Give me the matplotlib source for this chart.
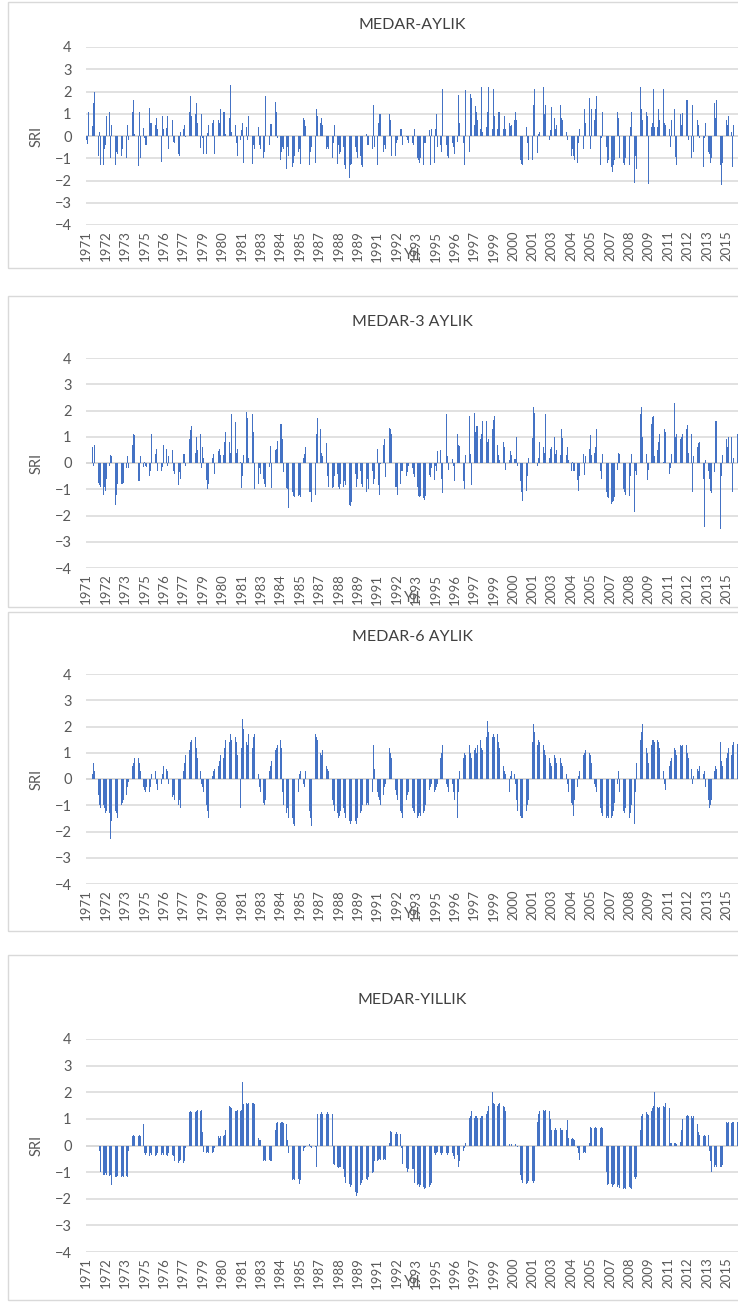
import numpy as np
import pandas as pd
import matplotlib.pyplot as plt
import matplotlib.patches as patches

plt.rcParams['font.family'] = ['Lato', 'DejaVu Sans']

nan = np.nan

# SRI values, one row per year starting Jan 1971
aylik = [
    -0.2, -0.35, 1.1, 0.4, -0.5, 0.45, 1.5, 2.0, 0.8, -0.6, -0.9, 0.2,
    -1.3, -0.7, -1.3, -0.6, -0.4, 0.9, -0.4, 1.1, -1.0, 0.5, -0.6, -1.4,
    -1.3, -0.7, -0.8, -0.5, -0.8, -0.9, -0.6, 0.0, 1.1, -1.0, 0.5, -0.2,
    -1.3, 0.0, 1.1, 1.6, 0.1, 0.7, -0.7, -1.35, 1.1, -1.0, 0.5, 0.35,
    -0.1, -0.4, -0.4, -1.0, 1.25, 0.6, 0.6, 1.1, -1.0, 0.5, 0.8, 0.3,
    -0.5, -0.3, -1.15, 0.9, 0.3, 0.5, 0.35, 0.9, -0.6, 0.5, 0.5, 0.7,
    -0.25, -0.3, -0.1, -0.6, -0.8, -0.9, 0.2, 0.5, 0.3, 0.5, -0.05, 1.3,
    1.0, 1.1, 1.8, 0.9, 0.5, -0.3, 1.0, 1.5, 0.6, 1.1, -0.55, 1.0,
    -0.1, -0.8, -0.9, -0.8, 0.15, 0.5, 1.0, 0.3, 0.6, 0.7, -0.8, 0.25,
    0.7, 0.7, 0.6, 1.2, 0.3, 1.1, 1.1, 0.1, 0.8, 0.7, 0.8, 2.3,
    0.2, 1.0, 1.1, 0.5, -0.3, -0.9, -1.4, -0.2, 0.25, 0.6, -1.2, 2.3,
    0.4, -0.2, 0.9, 2.0, 1.2, -1.25, -0.4, -0.6, -0.8, -0.5, 0.4, -0.4,
    -0.6, -0.6, -1.0, -0.7, 1.8, -0.5, -0.7, -0.4, 0.55, 0.55, 1.0, 0.9,
    1.55, 1.1, -0.1, -0.2, -1.1, -0.7, -0.5, -0.6, -1.2, -1.5, -0.5, -0.9,
    -1.0, -1.2, -1.4, -1.2, -0.9, -1.1, -0.5, -0.7, -0.6, -1.25, -1.5, 0.8,
    0.7, 0.45, -0.9, -0.9, -1.3, -0.7, -0.5, -0.4, -0.6, -1.2, 1.2, 0.9,
    2.0, 0.6, 0.8, 0.5, 0.8, 0.1, -0.6, -0.5, -0.6, -1.2, -1.0, -1.0,
    -0.3, 0.5, -0.6, -1.25, -0.4, -0.8, -0.7, -1.0, -0.5, -1.3, -1.5, -1.4,
    -1.35, -1.9, -1.3, -1.25, -0.6, -0.3, -0.5, -0.7, -1.0, -0.2, -0.9, -1.3,
    -1.4, -1.4, 1.0, 0.1, -0.4, -0.4, -0.6, -0.6, -0.6, 1.4, -0.5, -0.9,
    -1.3, 0.6, 1.0, 1.0, -0.4, -0.7, -0.4, -0.6, 0.2, 1.45, 1.0, 0.7,
    -0.9, -0.5, -1.25, -0.9, -0.3, -0.2, -0.6, 0.3, 0.3, -0.4, -0.9, 0.1,
    -0.05, -0.2, -0.3, 0.1, 0.1, -0.3, -0.4, 0.3, -0.9, -1.0, -1.1, -1.2,
    -1.0, -1.45, -1.3, -0.3, -0.3, -0.2, -0.1, 0.25, -1.3, 0.3, 0.3, -1.2,
    0.3, 1.0, -0.5, -1.3, -0.4, -0.7, 2.1, -0.1, 1.9, -0.4, -0.9, -1.0,
    0.4, 0.35, -0.3, -0.5, -0.8, -0.4, -0.25, 1.85, 0.6, -0.3, -0.6, -0.3,
    -1.3, 2.05, -0.2, -0.7, -0.7, 1.9, 1.7, 1.2, 0.5, 1.35, 1.1, 0.7,
    0.3, 0.3, 2.2, 0.2, 1.6, 1.5, 0.4, 1.1, 2.2, 0.9, 0.2, 0.3,
    2.1, 0.9, 0.7, 0.3, 1.1, 1.1, 1.6, 0.5, 0.3, 0.9, 0.3, -0.5,
    -0.55, 0.6, 0.45, 0.5, 0.05, 0.7, 1.1, 0.7, 0.0, -0.25, -1.1, -1.25,
    -1.3, -1.5, -0.9, 0.4, -0.3, -1.1, -1.15, -1.1, -1.1, 1.4, 2.1, 1.0,
    -0.75, 0.1, 0.2, 1.0, 0.6, 2.2, 1.0, 1.4, 1.5, 1.5, -0.2, 0.25,
    1.3, 0.35, 0.8, 0.3, 0.5, 0.3, 0.4, 1.4, 0.8, 0.7, 0.3, 1.1,
    0.2, -0.2, 0.0, -0.1, -0.9, -0.6, -0.9, -1.1, -0.8, -1.2, -0.3, 0.3,
    0.5, 0.7, -0.6, 1.2, 0.6, 0.9, 1.0, 1.7, -0.6, 1.2, -0.1, 0.7,
    1.2, 1.8, 0.0, -0.6, -1.3, -0.1, 1.1, 0.6, -0.2, -0.5, -1.2, -1.1,
    -1.3, -1.4, -1.6, -1.3, -1.1, -0.1, 1.1, 0.8, -1.0, 0.7, 0.3, -1.2,
    -1.3, -1.0, -1.1, -1.2, -1.3, 0.4, 1.1, 0.9, -2.1, -0.9, -1.5, 0.1,
    1.5, 2.2, 1.2, 0.7, -0.4, -1.4, 1.1, 0.9, -2.15, 0.6, 0.4, 0.6,
    2.1, 0.4, 0.9, 0.4, 1.2, 0.7, -0.6, 0.8, 2.1, 0.6, 0.5, -0.1,
    -0.4, 0.3, -0.5, 0.7, 2.3, 1.2, -0.95, -1.3, 1.4, -0.5, 1.0, 0.5,
    1.05, 1.1, 1.2, 1.6, 1.6, -0.2, -0.9, -1.0, 1.4, -0.7, 0.6, 0.8,
    0.7, 0.5, -0.1, -0.3, -0.9, -1.4, -0.1, 0.6, 1.4, -0.7, -0.8, -1.2,
    -1.0, -0.3, 1.5, 0.8, 1.6, -0.4, -1.2, -1.3, -2.2, -1.2, 0.05, 1.1,
    0.7, 0.5, 0.9, 0.8, 0.2, -1.4, 0.5, 2.1, 0.6,
]

aylik3 = [
    nan, nan, nan, 0.05, 0.3, 0.6, -0.1, 0.7, 1.4, 0.05, -0.75, -0.85,
    -0.9, -1.0, -1.2, -0.9, -1.05, -0.6, -0.55, -0.1, 0.3, 0.25, -0.4, -1.3,
    -1.6, -1.2, -0.8, -0.7, -0.8, -0.8, -0.8, -0.75, -0.45, -0.2, 0.25, -0.2,
    -1.0, 0.1, 0.7, 1.1, 1.05, 0.2, 0.45, -0.7, -0.7, 0.25, -0.1, -0.15,
    0.05, -0.1, -0.15, -0.35, -0.5, -0.3, 1.1, 0.65, 0.2, 0.35, 0.55, -0.3,
    -0.5, -0.8, -0.3, -0.15, 0.7, 0.45, 0.55, -0.1, 0.25, 0.25, -0.5, 0.5,
    -0.3, -0.4, -0.5, -0.7, -0.85, -0.35, -0.6, 0.15, 0.35, 0.35, -0.1, -0.05,
    0.85, 0.9, 1.25, 1.4, 1.8, 1.7, 0.4, 1.0, 0.5, 1.2, 1.1, -0.2,
    0.6, 0.2, -0.1, -0.65, -1.0, -0.8, -0.6, 0.2, 0.2, 0.35, -0.4, 0.75,
    0.35, 0.45, 0.55, 0.3, 0.6, 0.3, 0.8, 1.2, 0.6, 0.45, 0.8, 0.4,
    1.85, 1.5, 1.65, 1.55, 0.4, 0.55, -0.25, 0.05, -0.95, -0.5, 0.3, 2.3,
    1.95, 1.7, 0.2, 0.95, 1.5, 1.85, 1.2, -1.0, -0.9, -0.85, -0.8, -0.2,
    -0.4, -0.5, -0.6, -0.8, -0.9, -0.8, -0.2, -0.15, 0.65, -0.95, 0.2, 0.35,
    0.5, 0.55, 0.85, 1.1, 1.5, 1.5, 0.9, -0.35, -1.25, -0.95, -1.0, -1.7,
    -1.05, -1.0, -1.1, -1.25, -1.3, -1.55, -1.4, -1.25, -1.2, -1.3, -1.75, 0.2,
    0.35, 0.6, 0.25, -0.3, -1.1, -1.1, -1.5, -1.2, -1.0, -1.2, 1.1, 1.7,
    1.6, 1.3, 0.4, 0.25, 0.45, 0.5, 0.75, -0.5, -0.9, -1.1, -0.3, -0.95,
    -0.9, -0.5, -1.0, -0.4, -0.9, -1.0, -0.8, -1.15, -0.9, -0.7, -0.85, -1.1,
    -1.4, -1.6, -1.65, -1.5, -1.35, -1.2, -0.4, -0.9, -0.6, -0.55, -0.3, -0.8,
    -0.9, -1.05, -1.2, -1.1, -0.6, -1.0, -0.2, 0.8, -0.3, -0.8, -0.6, 1.35,
    0.55, -0.85, -1.2, -0.05, 0.1, 0.7, 0.9, -0.55, -0.9, 0.3, 1.35, 1.3,
    1.1, 0.4, -0.1, -0.9, -0.9, -1.2, -0.45, -0.8, -0.3, -0.3, -0.4, -0.9,
    -0.5, -0.35, -0.1, 0.1, -0.2, -0.2, -0.4, -0.55, -0.7, -0.9, -1.25, -1.3,
    -1.25, -1.25, -1.35, -1.4, -1.25, -0.5, -0.4, -0.45, -0.55, -0.2, -1.2, -0.65,
    -0.1, -0.3, 0.45, 0.45, 0.5, -0.6, -1.15, 1.95, 1.1, 1.85, 0.25, -0.25,
    -0.5, 0.2, 0.15, -0.1, -0.7, -0.95, 1.1, 0.7, 0.65, -0.5, -0.5, -0.7,
    -1.0, 0.3, 0.4, 1.1, 1.8, 0.35, -0.85, 1.45, 1.9, 1.2, 1.4, 1.4,
    0.5, 0.9, 1.1, 1.6, 2.2, 0.8, 1.6, 0.8, 0.9, 2.2, 0.8, 1.3,
    1.65, 1.8, 1.85, 0.7, 0.3, 0.1, 1.25, 0.0, 0.8, 0.6, -0.25, -0.6,
    -0.2, 0.1, 0.45, 0.3, 0.2, 0.15, 0.15, 1.0, -0.1, -0.3, -0.7, -1.1,
    -1.45, -1.45, -1.3, -1.05, -0.5, 0.2, -0.5, -1.25, 0.95, 2.15, 1.9, 1.4,
    -0.1, 0.2, 0.8, 0.5, 1.2, 0.6, 0.4, 1.85, 1.3, 1.45, 0.2, 0.55,
    0.6, 0.75, 1.0, 0.35, 0.5, 0.2, -0.1, 0.3, 1.3, 0.95, 0.85, 0.6,
    0.3, 0.6, 0.1, -0.2, -0.3, 0.05, -0.3, -0.3, -1.3, -0.65, -1.05, -0.5,
    0.2, 0.45, 0.35, -0.45, 0.25, 1.25, 1.65, 0.55, 1.05, 0.3, -0.05, 0.4,
    0.6, 1.3, 1.15, -0.2, -0.3, -0.6, 0.35, 0.3, -0.1, -1.1, -1.3, -1.35,
    -1.4, -1.55, -1.5, -1.45, -1.3, -0.4, -0.25, 0.4, 0.35, -0.2, -0.45, -1.0,
    -1.1, -1.2, -1.0, -1.2, -1.25, -0.5, 0.35, -0.9, -1.85, -0.3, -0.45, 0.75,
    1.5, 1.85, 2.15, 1.0, 0.8, 0.7, 0.35, -0.65, -0.25, 0.2, 1.5, 1.75,
    1.8, 0.25, 0.7, 0.5, 0.8, 1.1, 1.45, 1.95, 0.05, 1.3, 1.2, 0.3,
    -0.05, -0.4, -0.2, 0.35, 1.5, 2.3, 1.0, 1.1, 0.8, 0.8, 0.9, 1.0,
    1.1, 1.2, 1.2, 1.3, 1.45, 0.4, 0.1, 1.1, -1.1, 0.25, -0.5, 0.2,
    0.6, 0.75, 0.8, -0.3, -0.5, -0.6, -2.45, 0.1, 1.1, -0.3, -0.6, -1.05,
    -1.15, -1.05, -0.35, 1.6, 1.6, -0.9, -1.5, -2.5, -0.5, 0.3, 0.95, 0.8,
    0.9, 0.6, 1.0, 1.35, 1.0, -1.1, 0.2, 2.0, 1.05, 1.1,
]

aylik6 = [
    nan, nan, nan, nan, nan, 0.2, 0.6, 0.3, 0.1, -0.2, -0.6, -1.0,
    -1.1, -1.2, -1.0, -1.1, -1.3, -1.2, -1.1, -1.3, -2.3, -1.6, -1.4, -1.3,
    -1.2, -1.3, -1.5, -1.4, -1.2, -1.0, -0.9, -0.8, -1.0, -0.6, -0.3, -0.1,
    0.2, 0.4, 0.5, 0.6, 0.8, 0.9, 1.05, 0.8, 0.6, 0.3, -0.1, -0.3,
    -0.4, -0.5, -0.3, -0.4, -0.5, -0.3, 0.2, 1.1, 0.6, 0.3, -0.2, -0.4,
    -0.5, -0.3, -0.2, 0.2, 0.5, 0.6, 0.4, 0.3, -0.2, -0.4, -0.5, -0.7,
    -0.6, -0.8, -0.9, -0.7, -1.0, -0.8, -1.1, -1.4, 0.3, 0.6, 0.9, 1.0,
    1.2, 1.1, 1.4, 1.5, 1.7, 1.8, 1.6, 1.2, 0.8, 0.5, 0.3, -0.2,
    -0.3, -0.5, -0.8, -1.0, -1.2, -1.5, -0.6, -0.3, 0.1, 0.3, 0.4, 0.3,
    0.4, 0.5, 0.7, 0.9, 1.0, 0.8, 1.2, 1.5, 1.8, 1.6, 1.4, 1.7,
    1.5, 1.3, 1.2, 1.6, 1.4, 0.9, 1.0, -1.1, 1.2, 2.3, 1.9, 1.6,
    1.4, 1.3, 1.7, 1.6, 1.5, 1.2, 1.6, 1.7, 1.4, 0.8, 0.2, -0.3,
    -0.5, -0.7, -0.9, -1.0, -0.8, -0.6, -0.4, 0.3, 0.5, 0.7, 0.9, 1.0,
    1.1, 1.2, 1.3, 1.4, 1.5, 1.2, -0.5, -1.0, -1.2, -1.3, -1.1, -1.5,
    -1.6, -1.4, -1.5, -1.7, -1.8, -1.6, -1.2, -0.5, 0.2, 0.3, 0.2, -0.2,
    -0.3, 0.3, 0.2, -0.5, -1.2, -1.5, -1.8, 1.0, 1.4, 1.7, 1.6, 1.5,
    1.3, 1.0, 0.9, 1.1, 0.8, 0.6, 0.5, 0.4, 0.3, -0.2, -0.5, -0.8,
    -1.0, -1.2, -1.1, -1.3, -1.5, -1.4, -1.2, -1.0, -1.1, -1.3, -1.5, -1.6,
    -1.5, -1.6, -1.7, -1.6, -1.5, -1.4, -1.6, -1.7, -1.5, -1.4, -1.3, -1.2,
    -1.0, -1.1, -1.2, -1.0, -0.9, -1.0, -1.2, -0.8, -0.5, 1.3, 0.4, -0.2,
    -0.5, -0.7, -0.8, -1.0, -0.9, -0.6, -0.3, -0.2, 0.5, 1.3, 1.2, 1.0,
    0.8, 0.6, 0.3, -0.4, -0.6, -0.8, -1.0, -1.2, -1.3, -1.5, -1.2, -1.0,
    -0.8, -0.6, -0.5, -0.7, -0.9, -1.1, -1.2, -1.3, -1.4, -1.5, -1.4, -1.3,
    -1.4, -1.5, -1.3, -1.2, -1.0, -0.8, -0.6, -0.4, -0.3, -0.2, -0.3, -0.5,
    -0.4, -0.3, -0.2, 0.2, 0.8, 1.0, 1.3, 0.6, 0.2, -0.2, -0.3, -0.5,
    -0.6, -0.4, -0.2, -0.5, -0.8, -1.0, -1.5, -0.5, 0.3, 0.5, 0.6, 0.8,
    1.0, 0.9, 1.1, 1.4, 1.3, 1.0, 0.8, 0.9, 1.1, 1.2, 1.0, 1.3,
    1.4, 1.5, 1.2, 1.1, 1.3, 1.5, 1.6, 2.2, 1.8, 1.5, 1.3, 1.6,
    1.7, 1.6, 1.5, 1.7, 1.4, 1.2, 1.0, 0.8, 0.5, 0.3, 0.2, -0.1,
    -0.3, -0.5, 0.1, 0.3, 0.4, 0.2, -0.2, -0.8, -1.2, -1.5, -1.4, -1.5,
    -1.5, -1.4, -1.3, -1.2, -1.0, -0.8, -0.5, 0.5, 1.4, 2.1, 1.8, 1.5,
    1.3, 1.5, 1.4, 1.2, 1.0, 1.3, 1.1, 0.9, 1.0, 1.1, 0.8, 0.6,
    0.5, 0.7, 0.9, 0.8, 0.6, 0.5, 0.7, 0.8, 0.6, 0.5, 0.4, 0.3,
    0.2, -0.2, -0.5, -0.7, -0.9, -1.0, -1.4, -0.8, -0.5, -0.3, 0.1, 0.3,
    0.5, 0.7, 0.9, 1.0, 1.1, 0.8, 1.2, 1.0, 0.9, 0.6, 0.3, -0.2,
    -0.3, -0.5, -0.7, -0.9, -1.1, -1.3, -1.4, -1.5, -1.6, -1.5, -1.4, -1.5,
    -1.6, -1.5, -1.4, -1.2, -0.9, -0.6, -0.2, 0.3, -0.5, -0.9, -1.0, -1.2,
    -1.3, -1.1, -1.2, -1.4, -1.5, -1.3, -1.0, -1.2, -1.7, -0.5, 0.6, 1.0,
    1.2, 1.5, 1.8, 2.1, 1.7, 1.4, 1.2, 1.0, 0.6, 0.4, 1.3, 1.5,
    1.5, 1.4, 1.3, 1.5, 1.4, 1.2, 1.0, 0.6, 0.3, -0.2, -0.4, -0.1,
    0.3, 0.5, 0.7, 0.8, 1.0, 1.2, 1.1, 0.9, 1.0, 1.2, 1.3, 1.25,
    1.3, 1.2, 1.1, 1.3, 1.0, 0.8, 0.5, 0.4, -0.2, 0.1, 0.3, 0.5,
    0.4, 0.3, 0.5, 0.6, 0.4, 0.2, 0.3, -0.3, -0.6, -0.8, -1.1, -1.0,
    -0.8, -0.5, 0.3, 0.5, 0.4, 0.6, 0.8, 1.4, 0.7, 0.5, 0.9, 1.0,
    0.8, 1.0, 1.2, 1.3, 0.9, 1.3, 1.4, 1.2, 1.3, 1.35,
]

yillik = [
    nan, nan, nan, nan, nan, nan, nan, nan, nan, nan, nan, -0.2,
    -1.0, -1.05, -1.1, -1.1, -1.05, -1.1, -1.1, -1.15, -1.1, -1.5, -1.6, -1.45,
    -1.2, -1.2, -1.15, -1.2, -1.2, -1.2, -1.15, -1.2, -1.2, -1.15, -1.2, -0.2,
    0.3, 0.35, 0.35, 0.4, 0.35, 0.35, 0.4, 0.35, 0.4, 0.35, 0.4, 0.8,
    -0.3, -0.35, -0.3, -0.35, -0.4, -0.3, -0.35, -0.3, -0.35, -0.4, -0.35, -0.3,
    -0.35, -0.4, -0.35, -0.3, -0.35, -0.4, -0.35, -0.4, -0.3, -0.35, -0.4, -0.35,
    -0.4, -0.6, -0.55, -0.6, -0.65, -0.6, -0.55, -0.6, -0.65, -0.6, -0.1, 1.0,
    1.2, 1.25, 1.3, 1.25, 1.3, 1.3, 1.25, 1.3, 1.35, 1.3, 1.3, 1.35,
    0.5, -0.25, -0.3, -0.3, -0.25, -0.3, -0.3, -0.35, -0.3, -0.25, -0.1, 0.3,
    0.3, 0.35, 0.3, 0.35, 0.4, 0.35, 0.4, 0.6, 1.3, 1.4, 1.5, 1.45,
    1.4, 1.35, 1.45, 1.3, 1.3, 1.35, 1.3, 1.3, 1.35, 2.4, 1.55, 1.6,
    1.6, 1.55, 1.6, 1.6, 1.55, 1.6, 1.6, 1.55, 1.6, 1.6, 0.3, 0.2,
    0.2, -0.6, -0.6, -0.55, -0.6, -0.65, -0.6, -0.55, -0.6, -0.6, -0.55, -0.2,
    0.6, 0.85, 0.9, 0.9, 0.85, 0.9, 0.9, 0.85, 0.9, 0.8, 0.2, -0.3,
    -1.2, -1.25, -1.3, -1.25, -1.3, -1.25, -1.3, -1.25, -1.45, -1.3, -1.25, -0.2,
    -0.1, -0.05, -0.1, -0.05, 0.05, -0.05, -0.1, -0.05, -0.1, -0.05, -0.8, 1.2,
    1.15, 1.2, 1.25, 1.2, 1.2, 1.25, 1.2, 1.25, 1.2, 1.2, 1.25, 1.2,
    -0.7, -0.75, -0.8, -0.8, -0.85, -0.8, -0.8, -0.85, -0.9, -1.2, -1.4, -1.5,
    -1.5, -1.45, -1.55, -1.5, -1.6, -1.55, -1.75, -1.9, -1.8, -1.6, -1.5, -1.4,
    -1.3, -1.35, -1.3, -1.25, -1.3, -1.2, -1.1, -1.0, -1.05, -1.0, -0.6, -0.55,
    -0.6, -0.55, -0.5, -0.55, -0.5, -0.55, -0.5, -0.55, -0.5, -0.45, 0.1, 0.55,
    0.5, 0.45, 0.5, 0.45, 0.5, 0.45, 0.4, 0.45, -0.1, -0.7, -0.8, -0.9,
    -0.85, -1.0, -0.9, -0.95, -1.0, -0.9, -0.9, -1.4, -1.45, -1.5, -1.45, -1.55,
    -1.5, -1.6, -1.55, -1.65, -1.6, -1.7, -1.6, -1.55, -1.5, -1.4, -0.3, -0.3,
    -0.35, -0.3, -0.25, -0.3, -0.3, -0.35, -0.3, -0.25, -0.3, -0.3, -0.35, -0.3,
    -0.35, -0.4, -0.3, -0.4, -0.5, -0.4, -0.35, -0.8, -0.6, -0.5, -0.4, -0.2,
    -0.1, 0.1, 1.0, 1.1, 1.05, 1.1, 1.3, 1.1, 1.05, 1.1, 1.1, 1.05,
    1.1, 1.05, 1.1, 1.1, 1.15, 1.1, 1.2, 1.3, 1.5, 1.7, 1.8, 2.0,
    1.6, 1.55, 1.6, 1.5, 1.55, 1.6, 1.5, 1.55, 1.5, 1.45, 1.3, 0.1,
    0.05, 0.05, 0.0, 0.05, -0.05, 0.0, 0.05, 0.0, -0.05, -0.2, -1.1, -1.3,
    -1.4, -1.35, -1.4, -1.45, -1.4, -1.35, -1.4, -1.4, -1.35, -1.4, -1.35, 0.4,
    0.9, 1.2, 1.3, 1.35, 1.3, 1.35, 1.3, 1.35, 1.3, 1.35, 1.3, 1.0,
    0.6, 0.65, 0.6, 0.65, 0.6, 0.55, 0.6, 0.65, 0.6, 0.6, 0.65, 0.6,
    0.6, 0.95, 0.3, 0.3, 0.25, 0.3, 0.25, 0.2, 0.1, -0.1, -0.3, -0.55,
    -0.3, -0.25, -0.3, -0.25, -0.3, -0.25, -0.2, 0.1, 0.7, 0.65, 0.7, 0.65,
    0.7, 0.65, 0.7, 0.7, 0.65, 0.7, 0.65, 0.6, 0.1, -1.0, -1.5, -1.45,
    -1.5, -1.45, -1.55, -1.5, -1.45, -1.5, -1.55, -1.5, -1.6, -1.55, -1.6, -1.65,
    -1.6, -1.65, -1.7, -1.6, -1.55, -1.6, -1.65, -1.6, -1.2, -1.25, -1.2, -1.7,
    -1.2, 0.6, 1.1, 1.2, 1.15, 1.2, 1.25, 1.2, 1.15, 1.25, 1.3, 1.4,
    1.5, 2.0, 1.6, 1.45, 1.4, 1.45, 1.4, 1.45, 1.5, 1.45, 1.6, 1.7,
    1.65, 1.4, 0.1, 0.1, 0.05, 0.1, 0.1, 0.05, 0.1, 0.1, 0.15, 0.6,
    1.0, 1.1, 1.15, 1.1, 1.15, 1.1, 1.15, 1.1, 1.05, 1.1, 1.0, 0.9,
    0.8, 0.5, 0.4, 0.35, 0.4, 0.35, 0.4, 0.35, 0.4, 0.4, -0.2, -0.6,
    -1.0, -0.9, -0.8, -0.75, -0.8, -0.85, -0.8, -0.8, -0.8, -0.75, 0.1, 0.5,
    0.9, 0.85, 0.9, 0.9, 0.85, 0.9, 0.9, 0.85, 0.9, 0.9,
]

titles = ['MEDAR-AYLIK', 'MEDAR-3 AYLIK', 'MEDAR-6 AYLIK', 'MEDAR-YILLIK']
series = [aylik, aylik3, aylik6, yillik]
months = pd.date_range('1971-01-01', '2015-12-01', freq='MS')

W, H = 738, 1304
# pixel layout per panel: frame top, frame bottom, plot top (y=4), plot bottom (y=-4), title y
layout = [
    (2, 268, 47, 225, 25),
    (296, 607, 358, 568, 322),
    (612, 931, 674, 884, 637),
    (955, 1300, 1039, 1252, 1000),
]
plot_left = 85.6

fig = plt.figure(figsize=(W / 100, H / 100), dpi=100)

for vals, title, (ftop, fbot, ptop, pbot, ty) in zip(series, titles, layout):
    # chart border
    fig.patches.append(patches.Rectangle((8 / W, 1 - fbot / H), 1.2, (fbot - ftop) / H,
                                         transform=fig.transFigure, fill=False,
                                         edgecolor='#D9D9D9', linewidth=1))
    ax = fig.add_axes([plot_left / W, 1 - pbot / H, 1 - plot_left / W, (pbot - ptop) / H])
    x = np.arange(len(vals))
    ax.bar(x, vals, width=0.55, color='#4472C4', linewidth=0, zorder=3)
    ax.set_xlim(-0.5, 537.6)
    ax.set_ylim(-4, 4)
    ax.set_yticks(range(-4, 5))
    ax.yaxis.grid(True, color='#D9D9D9', linewidth=1.1)
    ax.set_axisbelow(True)
    ax.axhline(0, color='#D9D9D9', linewidth=1.3, zorder=2)
    for s in ax.spines.values():
        s.set_visible(False)
    tick_pos = np.arange(0, len(months), 16)
    ax.set_xticks(tick_pos)
    ax.set_xticklabels([str(months[i].year) for i in tick_pos])
    ax.tick_params(axis='x', length=0, labelrotation=90, labelsize=9.5, colors='#595959', pad=4)
    ax.tick_params(axis='y', length=0, labelsize=10.5, colors='#595959', pad=10)
    ax.set_ylabel('SRI', fontsize=10.5, color='#595959', labelpad=8)
    fig.text(412 / W, 1 - ty / H, title, ha='center', va='center', fontsize=11.5, color='#404040')
    ax.annotate('Yıl', xy=(0.5, 0), xycoords='axes fraction', xytext=(0, -30),
                textcoords='offset pixels', ha='center', va='center', fontsize=10.5, color='#595959')

fig.savefig('out.png', dpi=100)
